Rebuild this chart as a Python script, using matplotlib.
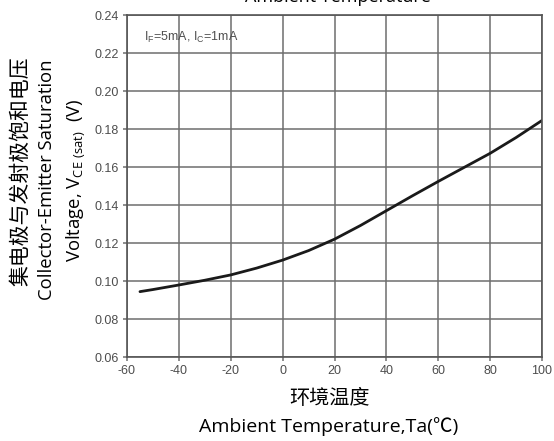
import numpy as np
import matplotlib
matplotlib.use("Agg")
import matplotlib.pyplot as plt

# curve (Ta in degC, Vce(sat) in V)
temp = [-55, -50, -40, -30, -20, -10, 0, 10, 20, 30, 40, 50, 60, 70, 80, 90, 100]
vce_sat = [0.0944, 0.0955, 0.0979, 0.1004, 0.1032, 0.1068, 0.1110, 0.1160, 0.1220,
           0.1292, 0.1370, 0.1448, 0.1524, 0.1598, 0.1672, 0.1755, 0.1845]

x_ticks = [-60, -40, -20, 0, 20, 40, 60, 80, 100]
y_ticks = [0.06, 0.08, 0.10, 0.12, 0.14, 0.16, 0.18, 0.20, 0.22, 0.24]

plt.rcParams['font.family'] = ['Noto Sans CJK SC', 'DejaVu Sans']
plt.rcParams['mathtext.fontset'] = 'custom'
plt.rcParams['mathtext.rm'] = 'Open Sans'
plt.rcParams['mathtext.it'] = 'Open Sans'

fig = plt.figure(figsize=(5.54, 4.41), dpi=100)
ax = fig.add_axes([127 / 554, 1 - 357 / 441, 415 / 554, 342 / 441])

ax.plot(temp, vce_sat, color='#1a1a1a', lw=2.0, solid_capstyle='round')

ax.set_xlim(-60, 100)
ax.set_ylim(0.06, 0.24)
ax.set_xticks(x_ticks)
ax.set_yticks(y_ticks)
ax.set_xticklabels([str(t) for t in x_ticks])
ax.set_yticklabels([f"{t:.2f}" for t in y_ticks])
ax.grid(True, color='#6e6e6e', lw=1.1)
ax.tick_params(direction='out', length=3, width=1.1, color='#6e6e6e',
               labelsize=9, labelcolor='#4d4d4d', pad=3)
for lab in ax.get_xticklabels() + ax.get_yticklabels():
    lab.set_family('Liberation Sans')
for sp in ax.spines.values():
    sp.set_color('#555555')
    sp.set_linewidth(1.2)

ax.text(0.04, 0.955, r'I$_\mathregular{F}$=5mA, I$_\mathregular{C}$=1mA',
        transform=ax.transAxes, fontsize=9, color='#505050',
        family='Liberation Sans', va='top', ha='left')

# clipped title at the very top, as in the source image
fig.text(338 / 554, 1 - 2 / 441, 'Ambient Temperature', ha='center', va='baseline',
         fontsize=13, family='Open Sans')

# axis labels
fig.text(330 / 554, 1 - 398 / 441, '环境温度', ha='center', va='center', fontsize=14.5)
fig.text(329 / 554, 1 - 427 / 441, 'Ambient Temperature,Ta(℃)', ha='center',
         va='center', fontsize=14, family=['Open Sans', 'Noto Sans CJK SC'])

fig.text(20 / 554, 1 - 171 / 441, '集电极与发射极饱和电压', rotation=90,
         ha='center', va='center', fontsize=15)
fig.text(47 / 554, 1 - 180 / 441, 'Collector-Emitter Saturation', rotation=90,
         ha='center', va='center', fontsize=13.3, family='Open Sans')
fig.text(76 / 554, 1 - 180 / 441, r'Voltage, V$_\mathregular{CE\ (sat)}$  (V)',
         rotation=90, ha='center', va='center', fontsize=13.3, family='Open Sans')

fig.savefig('out.png', dpi=100)
